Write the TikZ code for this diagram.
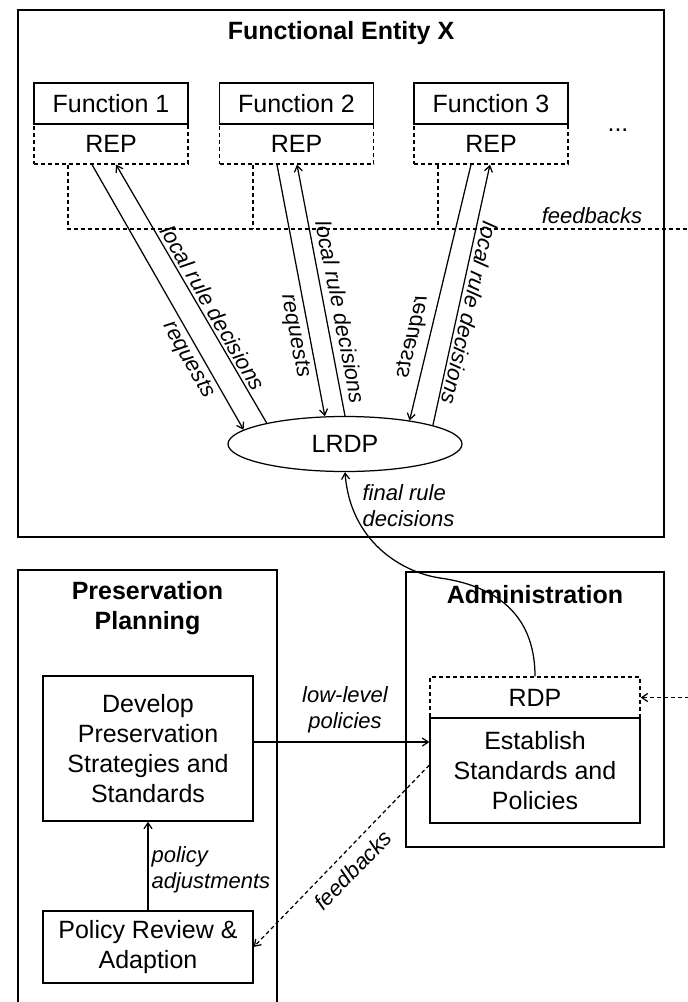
\documentclass[tikz,border=0pt]{standalone}
\usepackage{fontspec}
\setmainfont{Liberation Sans}
\usetikzlibrary{arrows.meta,shapes.geometric}
\begin{document}
\begin{tikzpicture}[x=1pt,y=-1pt, line width=1.25pt,
  >={Straight Barb[length=6pt,width=8pt]},
  box/.style={draw, rectangle, inner sep=0pt, align=center, font=\fontsize{25}{30}\selectfont},
  dsh/.style={dash pattern=on 4pt off 3pt},
  dbox/.style={box, dsh},
  lbl/.style={font=\fontsize{22}{26}\selectfont\itshape, inner sep=0pt},
  ttl/.style={font=\fontsize{25}{30}\selectfont\bfseries, align=center, inner sep=0pt}]
\useasboundingbox (0,0) rectangle (688,1002);

% ---------- Functional Entity X ----------
\node[draw, minimum width=646, minimum height=527] (FE) at (341,273.5) {};
\node[ttl] (FEt) at (341,33) {Functional Entity X};

\node[dbox, minimum width=154, minimum height=40] (R1) at (111,144) {REP};
\node[dbox, minimum width=154, minimum height=40] (R2) at (296.5,144) {REP};
\node[dbox, minimum width=154, minimum height=40] (R3) at (491,144) {REP};
\node[box, minimum width=154, minimum height=41] (F1) at (111,103.5) {Function 1};
\node[box, minimum width=154, minimum height=41] (F2) at (296.5,103.5) {Function 2};
\node[box, minimum width=154, minimum height=41] (F3) at (491,103.5) {Function 3};
\node[font=\fontsize{25}{30}\selectfont, anchor=base, inner sep=0pt] (dots) at (618,131) {...};

\node[draw, ellipse, inner sep=0pt, minimum width=234, minimum height=55,
      font=\fontsize{25}{30}\selectfont] (LRDP) at (345,444) {LRDP};

% feedback tree
\coordinate (fbR) at (689.5,229);
\draw[dsh] ([xshift=-43pt]R1.south) |- (fbR);
\draw[dsh] ([xshift=-43.5pt]R2.south) -- ([xshift=-43.5pt]R2.south |- fbR);
\draw[dsh] ([xshift=-53pt]R3.south) -- ([xshift=-53pt]R3.south |- fbR);
\node[lbl] (fbl1) at (592,216) {feedbacks};

% requests / local rule decisions
\draw[->] ([xshift=-19pt]R1.south) -- (LRDP.172.5);
\draw[->] (LRDP.165.6) -- ([xshift=5pt]R1.south);
\draw[->] ([xshift=-19.5pt]R2.south) -- (LRDP.126.4);
\draw[->] (LRDP.90) -- ([xshift=0.5pt]R2.south);
\draw[->] ([xshift=-20pt]R3.south) -- (LRDP.20.6);
\draw[->] (LRDP.12.5) -- ([xshift=-1pt]R3.south);

\node[lbl, rotate=-60.5] (q1) at (188,360) {requests};
\node[lbl, rotate=-60] (d1) at (213,308) {local rule decisions};
\node[lbl, rotate=-79] (q2) at (295,336) {requests};
\node[lbl, rotate=-79] (d2) at (341,312) {local rule decisions};
\node[lbl, rotate=76, xscale=-1] (q3) at (413,337) {requests};
\node[lbl, rotate=-103] (d3) at (470,313) {local rule decisions};

% ---------- Administration ----------
\node[draw, minimum width=258, minimum height=275] (Adm) at (535,709.5) {};
\node[ttl] (Admt) at (535,595) {Administration};
\node[dbox, minimum width=210, minimum height=41] (RDP) at (535,697.5) {RDP};
\node[box, minimum width=210, minimum height=105] (Est) at (535,770.5) {Establish\\Standards and\\Policies};

\draw[dsh,->] (fbR) |- (RDP.east);

% final rule decisions
\draw[->] (RDP.north) .. controls (535,610) and (490,585) .. (440,578)
          .. controls (400,572) and (350,540) .. (LRDP.south);
\node[lbl, align=left, anchor=west] (frd) at (362,506) {final rule\\decisions};

% ---------- Preservation Planning ----------
\draw (18,1002) -- (18,570) -- (277,570) -- (277,1002);
\node[ttl] (PPt) at (147.5,608) {Preservation\\Planning};
\node[box, minimum width=210, minimum height=145] (Dev) at (148,748.5)
  {Develop\\Preservation\\Strategies and\\Standards};
\node[box, minimum width=210, minimum height=72] (PRA) at (148,947)
  {Policy Review \&\\Adaption};

\draw[->] (PRA.north) -- (Dev.south);
\node[lbl, align=left, anchor=west] (pa) at (151,870) {policy\\adjustments};

\draw[->] ([yshift=6.5pt]Dev.east) -- ([yshift=6.5pt]Dev.east -| Est.west);
\node[lbl, align=center] (llp) at (345,710) {low-level\\policies};

\draw[dsh,->] ([yshift=5.5pt]Est.west) -- (PRA.east);
\node[lbl, rotate=45.8] (fbl2) at (353,870) {feedbacks};
\end{tikzpicture}
\end{document}
